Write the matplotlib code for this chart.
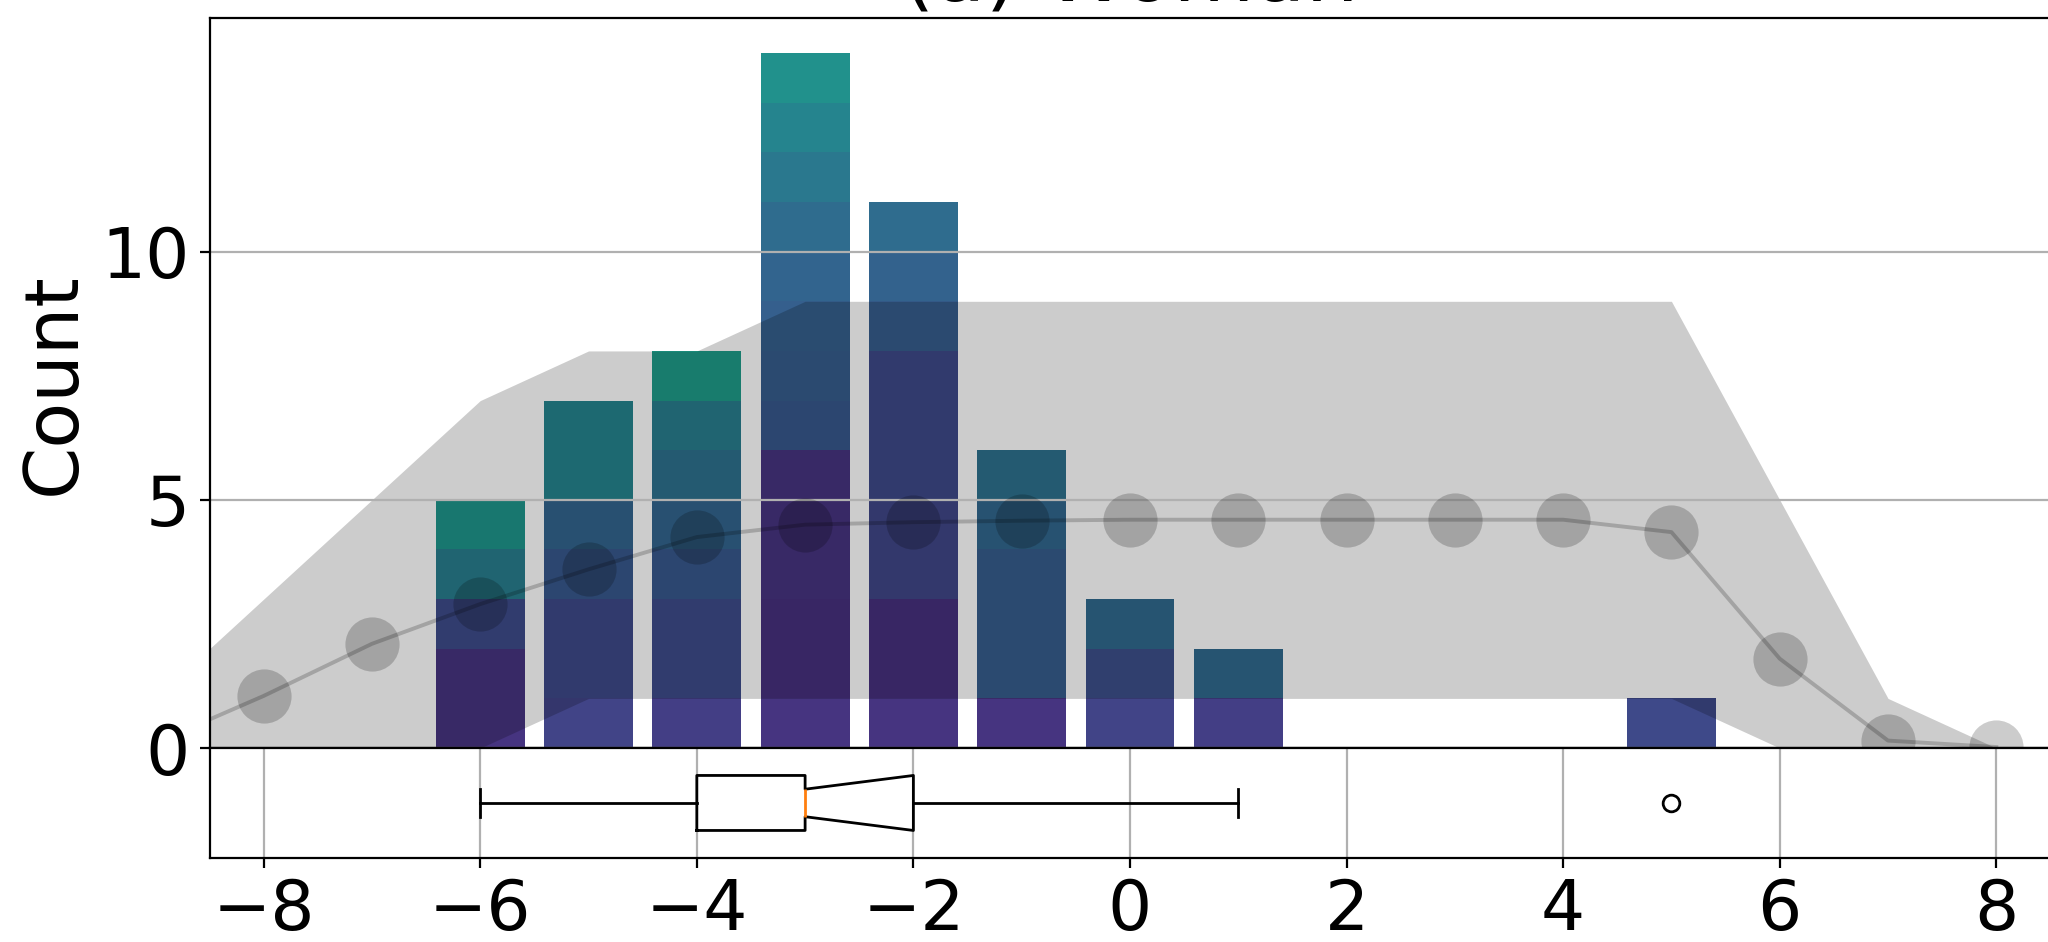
import matplotlib
matplotlib.use("Agg")
import matplotlib.pyplot as plt
import numpy as np

# ---- data ----
bin_centers = [-6, -5, -4, -3, -2, -1, 0, 1, 5]
counts = [5, 7, 8, 14, 11, 6, 3, 2, 1]
# viridis shade of every unit block in each bar (bottom -> top)
block_shades = [
    [0.15, 0.15, 0.23, 0.42, 0.52],
    [0.20, 0.22, 0.22, 0.27, 0.32, 0.45, 0.45],
    [0.18, 0.23, 0.23, 0.27, 0.32, 0.37, 0.42, 0.55],
    [0.15, 0.14, 0.14, 0.15, 0.15, 0.15, 0.27, 0.29, 0.30, 0.32, 0.35, 0.40, 0.45, 0.50],
    [0.15, 0.14, 0.14, 0.21, 0.21, 0.22, 0.22, 0.22, 0.29, 0.31, 0.35],
    [0.15, 0.29, 0.29, 0.29, 0.33, 0.37],
    [0.20, 0.24, 0.34],
    [0.18, 0.34],
    [0.22],
]
band_x = [-9, -8, -7, -6, -5, -4, -3, -2, -1, 0, 1, 2, 3, 4, 5, 6, 7, 8]
band_low = [0, 0, 0, 0, 1, 1, 1, 1, 1, 1, 1, 1, 1, 1, 1, 0, 0, 0]
band_high = [1, 3, 5, 7, 8, 8, 9, 9, 9, 9, 9, 9, 9, 9, 9, 5, 1, 0]
band_mean = [0.1, 1.05, 2.1, 2.9, 3.6, 4.25, 4.5, 4.55, 4.58, 4.6, 4.6, 4.6, 4.6, 4.6, 4.35, 1.8, 0.15, 0.02]

box_q1, box_med, box_q3 = -4, -3, -2
box_whislo, box_whishi = -6, 1
box_cilo, box_cihi = -3, -2
box_fliers = [5]

xticks = [-8, -6, -4, -2, 0, 2, 4, 6, 8]
yticks = [0, 5, 10]
title = "(a) Woman"
ylabel = "Count"

# ---- figure ----
fig = plt.figure(figsize=(10.24, 4.71), dpi=200)
L, W = 0.1023, 0.8989
ax = fig.add_axes([L, 0.2059, W, 0.7746])
axb = fig.add_axes([L, 0.0892, W, 0.1168], sharex=ax)

cmap = plt.get_cmap("viridis")
for xc, n, shades in zip(bin_centers, counts, block_shades):
    for k in range(n):
        ax.bar(xc, 1, bottom=k, width=0.82, color=cmap(shades[k]), linewidth=0)

ax.fill_between(band_x, band_low, band_high, color="k", alpha=0.2, linewidth=0)
ax.plot(band_x, band_mean, color="k", alpha=0.2, lw=1.4, marker="o",
        markersize=19.5, markeredgewidth=0)

ax.set_xlim(-8.5, 8.5)
ax.set_ylim(0, 14.7)
ax.set_yticks(yticks)
ax.yaxis.grid(True, color="#b0b0b0", lw=0.8)
ax.tick_params(axis="x", bottom=False, labelbottom=False)
ax.tick_params(axis="y", labelsize=25)
ax.set_ylabel(ylabel, fontsize=27)
ax.set_title(title, fontsize=30, pad=6.5)
ax.spines["right"].set_visible(False)

stats = [dict(med=box_med, q1=box_q1, q3=box_q3, whislo=box_whislo,
              whishi=box_whishi, cilo=box_cilo, cihi=box_cihi, fliers=box_fliers)]
axb.bxp(stats, vert=False, shownotches=True, widths=0.5, positions=[1])
axb.set_ylim(0.5, 1.5)
axb.set_yticks([])
axb.set_xticks(xticks)
axb.xaxis.grid(True, color="#b0b0b0", lw=0.8)
axb.tick_params(axis="x", labelsize=25)
axb.spines["right"].set_visible(False)

fig.savefig("out.png", dpi=200)
